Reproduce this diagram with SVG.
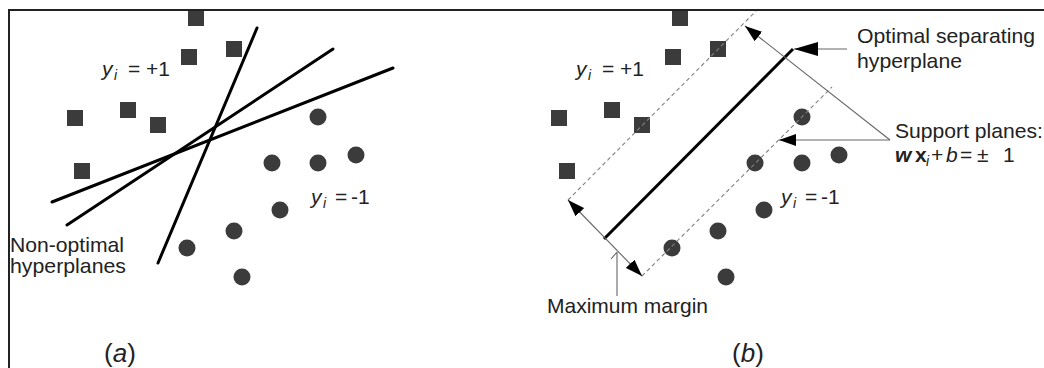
<svg xmlns="http://www.w3.org/2000/svg" width="1044" height="368" viewBox="0 0 1044 368">
<defs>
<style>
.sq{fill:#3b3b3b}
.pt{fill:#3b3b3b}
.hp{stroke:#000;stroke-width:3;fill:none;stroke-linecap:round}
.dash{stroke:#808080;stroke-width:1.1;fill:none;stroke-dasharray:4 3}
.lead{stroke:#666;stroke-width:1.1;fill:none}
.t{font-family:"Liberation Sans",Arial,sans-serif;font-size:21px;fill:#222}
.it{font-style:italic}
.sub{font-size:14px;font-style:italic}
.bd{font-weight:bold}
.cap{font-size:26px}
.frame{stroke:#222;stroke-width:2;fill:none}
</style>
<marker id="ab" markerUnits="userSpaceOnUse" markerWidth="24" markerHeight="14" refX="24" refY="7" orient="auto"><path d="M0,0 L24,7 L0,14 z" fill="#000"/></marker>
<marker id="as" markerUnits="userSpaceOnUse" markerWidth="17" markerHeight="12" refX="17" refY="6" orient="auto-start-reverse"><path d="M0,0 L17,6 L0,12 z" fill="#000"/></marker>
</defs>

<g id="panel-a">
<g id="a-squares">
<rect class="sq" x="188" y="10" width="16" height="16"/>
<rect class="sq" x="181" y="49" width="16" height="16"/>
<rect class="sq" x="226" y="41" width="16" height="16"/>
<rect class="sq" x="67" y="110" width="16" height="16"/>
<rect class="sq" x="120" y="102" width="16" height="16"/>
<rect class="sq" x="150" y="117" width="16" height="16"/>
<rect class="sq" x="74" y="163" width="16" height="16"/>
</g>
<g id="a-circles">
<circle class="pt" cx="318" cy="117" r="8.5"/>
<circle class="pt" cx="272" cy="163" r="8.5"/>
<circle class="pt" cx="318" cy="163" r="8.5"/>
<circle class="pt" cx="356" cy="155" r="8.5"/>
<circle class="pt" cx="280" cy="210" r="8.5"/>
<circle class="pt" cx="234" cy="231" r="8.5"/>
<circle class="pt" cx="187" cy="248" r="8.5"/>
<circle class="pt" cx="242" cy="277" r="8.5"/>
</g>
<g id="a-hyperplanes">
<line class="hp" x1="257" y1="28" x2="158" y2="263"/>
<line class="hp" x1="333" y1="49" x2="67" y2="225"/>
<line class="hp" x1="393" y1="68" x2="52" y2="202"/>
</g>
<g id="a-labels">
<text class="t" y="76"><tspan class="it" x="102">y</tspan><tspan class="sub" x="114" y="80">i</tspan><tspan x="128" y="76">=</tspan><tspan x="146">+1</tspan></text>
<text class="t" y="204"><tspan class="it" x="311">y</tspan><tspan class="sub" x="323" y="208">i</tspan><tspan x="335" y="204">=</tspan><tspan x="351">-1</tspan></text>
<text class="t" x="10" y="252" textLength="114" lengthAdjust="spacingAndGlyphs">Non-optimal</text>
<text class="t" x="10" y="273" textLength="116" lengthAdjust="spacingAndGlyphs">hyperplanes</text>
<text class="t cap" x="104" y="362">(<tspan class="it">a</tspan>)</text>
</g>
</g>

<g id="panel-b">
<g id="b-squares">
<rect class="sq" x="672" y="10" width="16" height="16"/>
<rect class="sq" x="665" y="49" width="16" height="16"/>
<rect class="sq" x="710" y="41" width="16" height="16"/>
<rect class="sq" x="551" y="110" width="16" height="16"/>
<rect class="sq" x="604" y="102" width="16" height="16"/>
<rect class="sq" x="634" y="117" width="16" height="16"/>
<rect class="sq" x="559" y="163" width="16" height="16"/>
</g>
<g id="b-circles">
<circle class="pt" cx="802" cy="117" r="8.5"/>
<circle class="pt" cx="755" cy="163" r="8.5"/>
<circle class="pt" cx="802" cy="163" r="8.5"/>
<circle class="pt" cx="839" cy="155" r="8.5"/>
<circle class="pt" cx="764" cy="210" r="8.5"/>
<circle class="pt" cx="718" cy="231" r="8.5"/>
<circle class="pt" cx="672" cy="248" r="8.5"/>
<circle class="pt" cx="726" cy="277" r="8.5"/>
</g>
<g id="b-planes">
<line class="dash" x1="568" y1="200" x2="757" y2="10"/>
<line class="dash" x1="642" y1="276" x2="832" y2="87"/>
<line class="hp" x1="604" y1="239" x2="793" y2="49" style="stroke-linecap:butt"/>
</g>
<g id="connectors">
<path class="lead" d="M568,200 L642,276" marker-start="url(#as)" marker-end="url(#as)"/>
<path class="lead" d="M847,49 L794,49" marker-end="url(#ab)"/>
<path class="lead" d="M890,140 L745,26" marker-end="url(#as)"/>
<path class="lead" d="M890,140 L779,140" marker-end="url(#as)"/>
<path class="lead" d="M617,296 L617,252 M611,259 L617,252"/>
</g>
<g id="b-labels">
<text class="t" y="76"><tspan class="it" x="576">y</tspan><tspan class="sub" x="588" y="80">i</tspan><tspan x="602" y="76">=</tspan><tspan x="620">+1</tspan></text>
<text class="t" y="204"><tspan class="it" x="781">y</tspan><tspan class="sub" x="793" y="208">i</tspan><tspan x="805" y="204">=</tspan><tspan x="821">-1</tspan></text>
<text class="t" x="857" y="43" textLength="178" lengthAdjust="spacingAndGlyphs">Optimal separating</text>
<text class="t" x="857" y="68" textLength="105" lengthAdjust="spacingAndGlyphs">hyperplane</text>
<text class="t" x="895" y="138" textLength="148" lengthAdjust="spacingAndGlyphs">Support planes:</text>
<text class="t" y="162"><tspan class="it bd" x="895">w</tspan><tspan class="bd" x="915">x</tspan><tspan class="sub" x="926" y="166">i</tspan><tspan x="931" y="162">+</tspan><tspan class="it" x="946">b</tspan><tspan x="960">=</tspan><tspan x="977">±</tspan><tspan x="1003">1</tspan></text>
<text class="t" x="547" y="313" textLength="161" lengthAdjust="spacingAndGlyphs">Maximum margin</text>
<text class="t cap" x="732" y="362">(<tspan class="it">b</tspan>)</text>
</g>
</g>

<g id="frame">
<path class="frame" d="M9,368 L9,10 L1044,10"/>
</g>
</svg>
